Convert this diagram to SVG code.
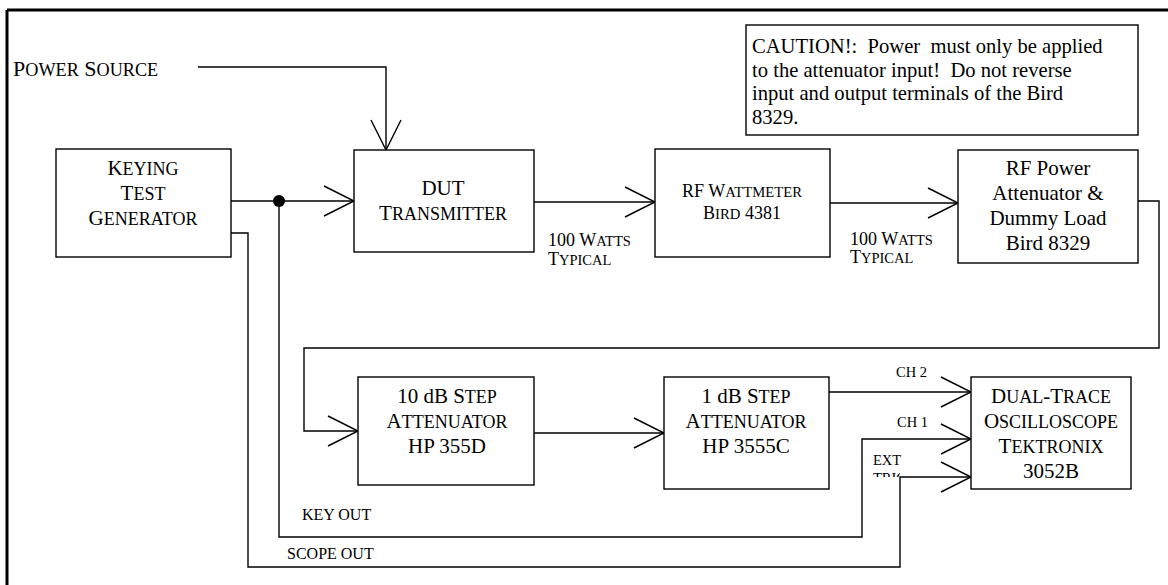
<svg xmlns="http://www.w3.org/2000/svg" width="1168" height="585" viewBox="0 0 1168 585" font-family="'Liberation Serif', 'Times New Roman', serif">
<defs>
<style>
svg text{font-family:"Liberation Serif","Times New Roman",serif;fill:#000}
.box{fill:#fff;stroke:#000;stroke-width:1.4}
.ln{fill:none;stroke:#000;stroke-width:1.4}
.t{font-size:21px}
.m{text-anchor:middle}
.sc{font-size:18px}
.cau{font-size:20.6px}
.l{font-size:18px}
.ls{font-size:14.5px}
.k{font-size:16px}
.c{font-size:14.5px}
.w{font-size:18px}
.ws{font-size:14.7px}
</style>
<marker id="ah" markerUnits="userSpaceOnUse" markerWidth="40" markerHeight="40" viewBox="-35 -20 40 40" refX="0" refY="0" orient="auto">
<path d="M-30,-15 L0,0 L-30,15" fill="none" stroke="#000" stroke-width="1.4"/>
</marker>
<clipPath id="trigclip"><rect x="860" y="460" width="40" height="17"/></clipPath>
</defs>

<g id="frame">
<line x1="7" y1="10" x2="1168" y2="10" stroke="#000" stroke-width="3"/>
<line x1="7" y1="10" x2="7" y2="585" stroke="#000" stroke-width="3"/>
</g>

<g id="connectors">
<path class="ln" d="M198,67 H386 V150" marker-end="url(#ah)"/>
<path class="ln" d="M231,201 H354" marker-end="url(#ah)"/>
<circle cx="279" cy="201" r="6" fill="#000"/>
<path class="ln" d="M534,202 H655" marker-end="url(#ah)"/>
<path class="ln" d="M830,203 H958" marker-end="url(#ah)"/>
<path class="ln" d="M1138,201 H1159 V348 H304 V431 H358" marker-end="url(#ah)"/>
<path class="ln" d="M534,433 H664" marker-end="url(#ah)"/>
<path class="ln" d="M829,392 H971" marker-end="url(#ah)"/>
<path class="ln" d="M279,201 V537 H862 V439 H971" marker-end="url(#ah)"/>
<path class="ln" d="M231,233 H248 V567 H900 V477 H971" marker-end="url(#ah)"/>
</g>

<g id="labels" font-family="'Liberation Serif', 'Times New Roman', serif">
<text x="13" y="76" font-size="22">P<tspan font-size="18.2">OWER</tspan> S<tspan font-size="18.2">OURCE</tspan></text>
<text class="l" x="548" y="246">100 W<tspan class="ls">ATTS</tspan></text>
<text class="l" x="548" y="265">T<tspan class="ls">YPICAL</tspan></text>
<text class="l" x="850" y="245">100 W<tspan class="ls">ATTS</tspan></text>
<text class="l" x="850" y="263">T<tspan class="ls">YPICAL</tspan></text>
<text class="c" x="896" y="377">CH 2</text>
<text class="c" x="897" y="427">CH 1</text>
<text class="c" x="873" y="465">EXT</text>
<text class="c" x="873" y="483" clip-path="url(#trigclip)">TRIG</text>
<text class="k" x="302" y="520">KEY OUT</text>
<text class="k" x="287" y="559">SCOPE OUT</text>
</g>

<g id="caution" font-family="'Liberation Serif', 'Times New Roman', serif">
<rect class="box" x="746" y="25" width="392" height="110"/>
<text class="cau" x="752" y="53" xml:space="preserve">CAUTION!:  Power  must only be applied</text>
<text class="cau" x="752" y="77" xml:space="preserve">to the attenuator input!  Do not reverse</text>
<text class="cau" x="752" y="100">input and output terminals of the Bird</text>
<text class="cau" x="752" y="124">8329.</text>
</g>

<g id="keying" font-family="'Liberation Serif', 'Times New Roman', serif">
<rect class="box" x="56" y="149" width="175" height="108"/>
<text class="t m" x="143" y="175">K<tspan class="sc">EYING</tspan></text>
<text class="t m" x="143" y="200">T<tspan class="sc">EST</tspan></text>
<text class="t m" x="143" y="225">G<tspan class="sc">ENERATOR</tspan></text>
</g>

<g id="dut" font-family="'Liberation Serif', 'Times New Roman', serif">
<rect class="box" x="354" y="150" width="180" height="102"/>
<text class="t m" x="443" y="195">DUT</text>
<text class="t m" x="443" y="220">T<tspan class="sc">RANSMITTER</tspan></text>
</g>

<g id="wattmeter" font-family="'Liberation Serif', 'Times New Roman', serif">
<rect class="box" x="655" y="149" width="175" height="108"/>
<text class="w m" x="742" y="197">RF W<tspan class="ws">ATTMETER</tspan></text>
<text class="w m" x="742" y="219">B<tspan class="ws">IRD</tspan> 4381</text>
</g>

<g id="rfpower" font-family="'Liberation Serif', 'Times New Roman', serif">
<rect class="box" x="958" y="150" width="180" height="113"/>
<text class="t m" x="1048" y="175">RF Power</text>
<text class="t m" x="1048" y="200">Attenuator &amp;</text>
<text class="t m" x="1048" y="225">Dummy Load</text>
<text class="t m" x="1048" y="250">Bird 8329</text>
</g>

<g id="att10" font-family="'Liberation Serif', 'Times New Roman', serif">
<rect class="box" x="358" y="377" width="176" height="108"/>
<text class="t m" x="447" y="403">10 dB S<tspan class="sc">TEP</tspan></text>
<text class="t m" x="447" y="428">A<tspan class="sc">TTENUATOR</tspan></text>
<text class="t m" x="447" y="453">HP 355D</text>
</g>

<g id="att1" font-family="'Liberation Serif', 'Times New Roman', serif">
<rect class="box" x="664" y="377" width="165" height="112"/>
<text class="t m" x="746" y="403">1 dB S<tspan class="sc">TEP</tspan></text>
<text class="t m" x="746" y="428">A<tspan class="sc">TTENUATOR</tspan></text>
<text class="t m" x="746" y="453">HP 3555C</text>
</g>

<g id="scope" font-family="'Liberation Serif', 'Times New Roman', serif">
<rect class="box" x="971" y="377" width="160" height="112"/>
<text class="t m" x="1051" y="403">D<tspan class="sc">UAL</tspan>-T<tspan class="sc">RACE</tspan></text>
<text class="t m" x="1051" y="428">O<tspan class="sc">SCILLOSCOPE</tspan></text>
<text class="t m" x="1051" y="453">T<tspan class="sc">EKTRONIX</tspan></text>
<text class="t m" x="1051" y="478">3052B</text>
</g>
</svg>
